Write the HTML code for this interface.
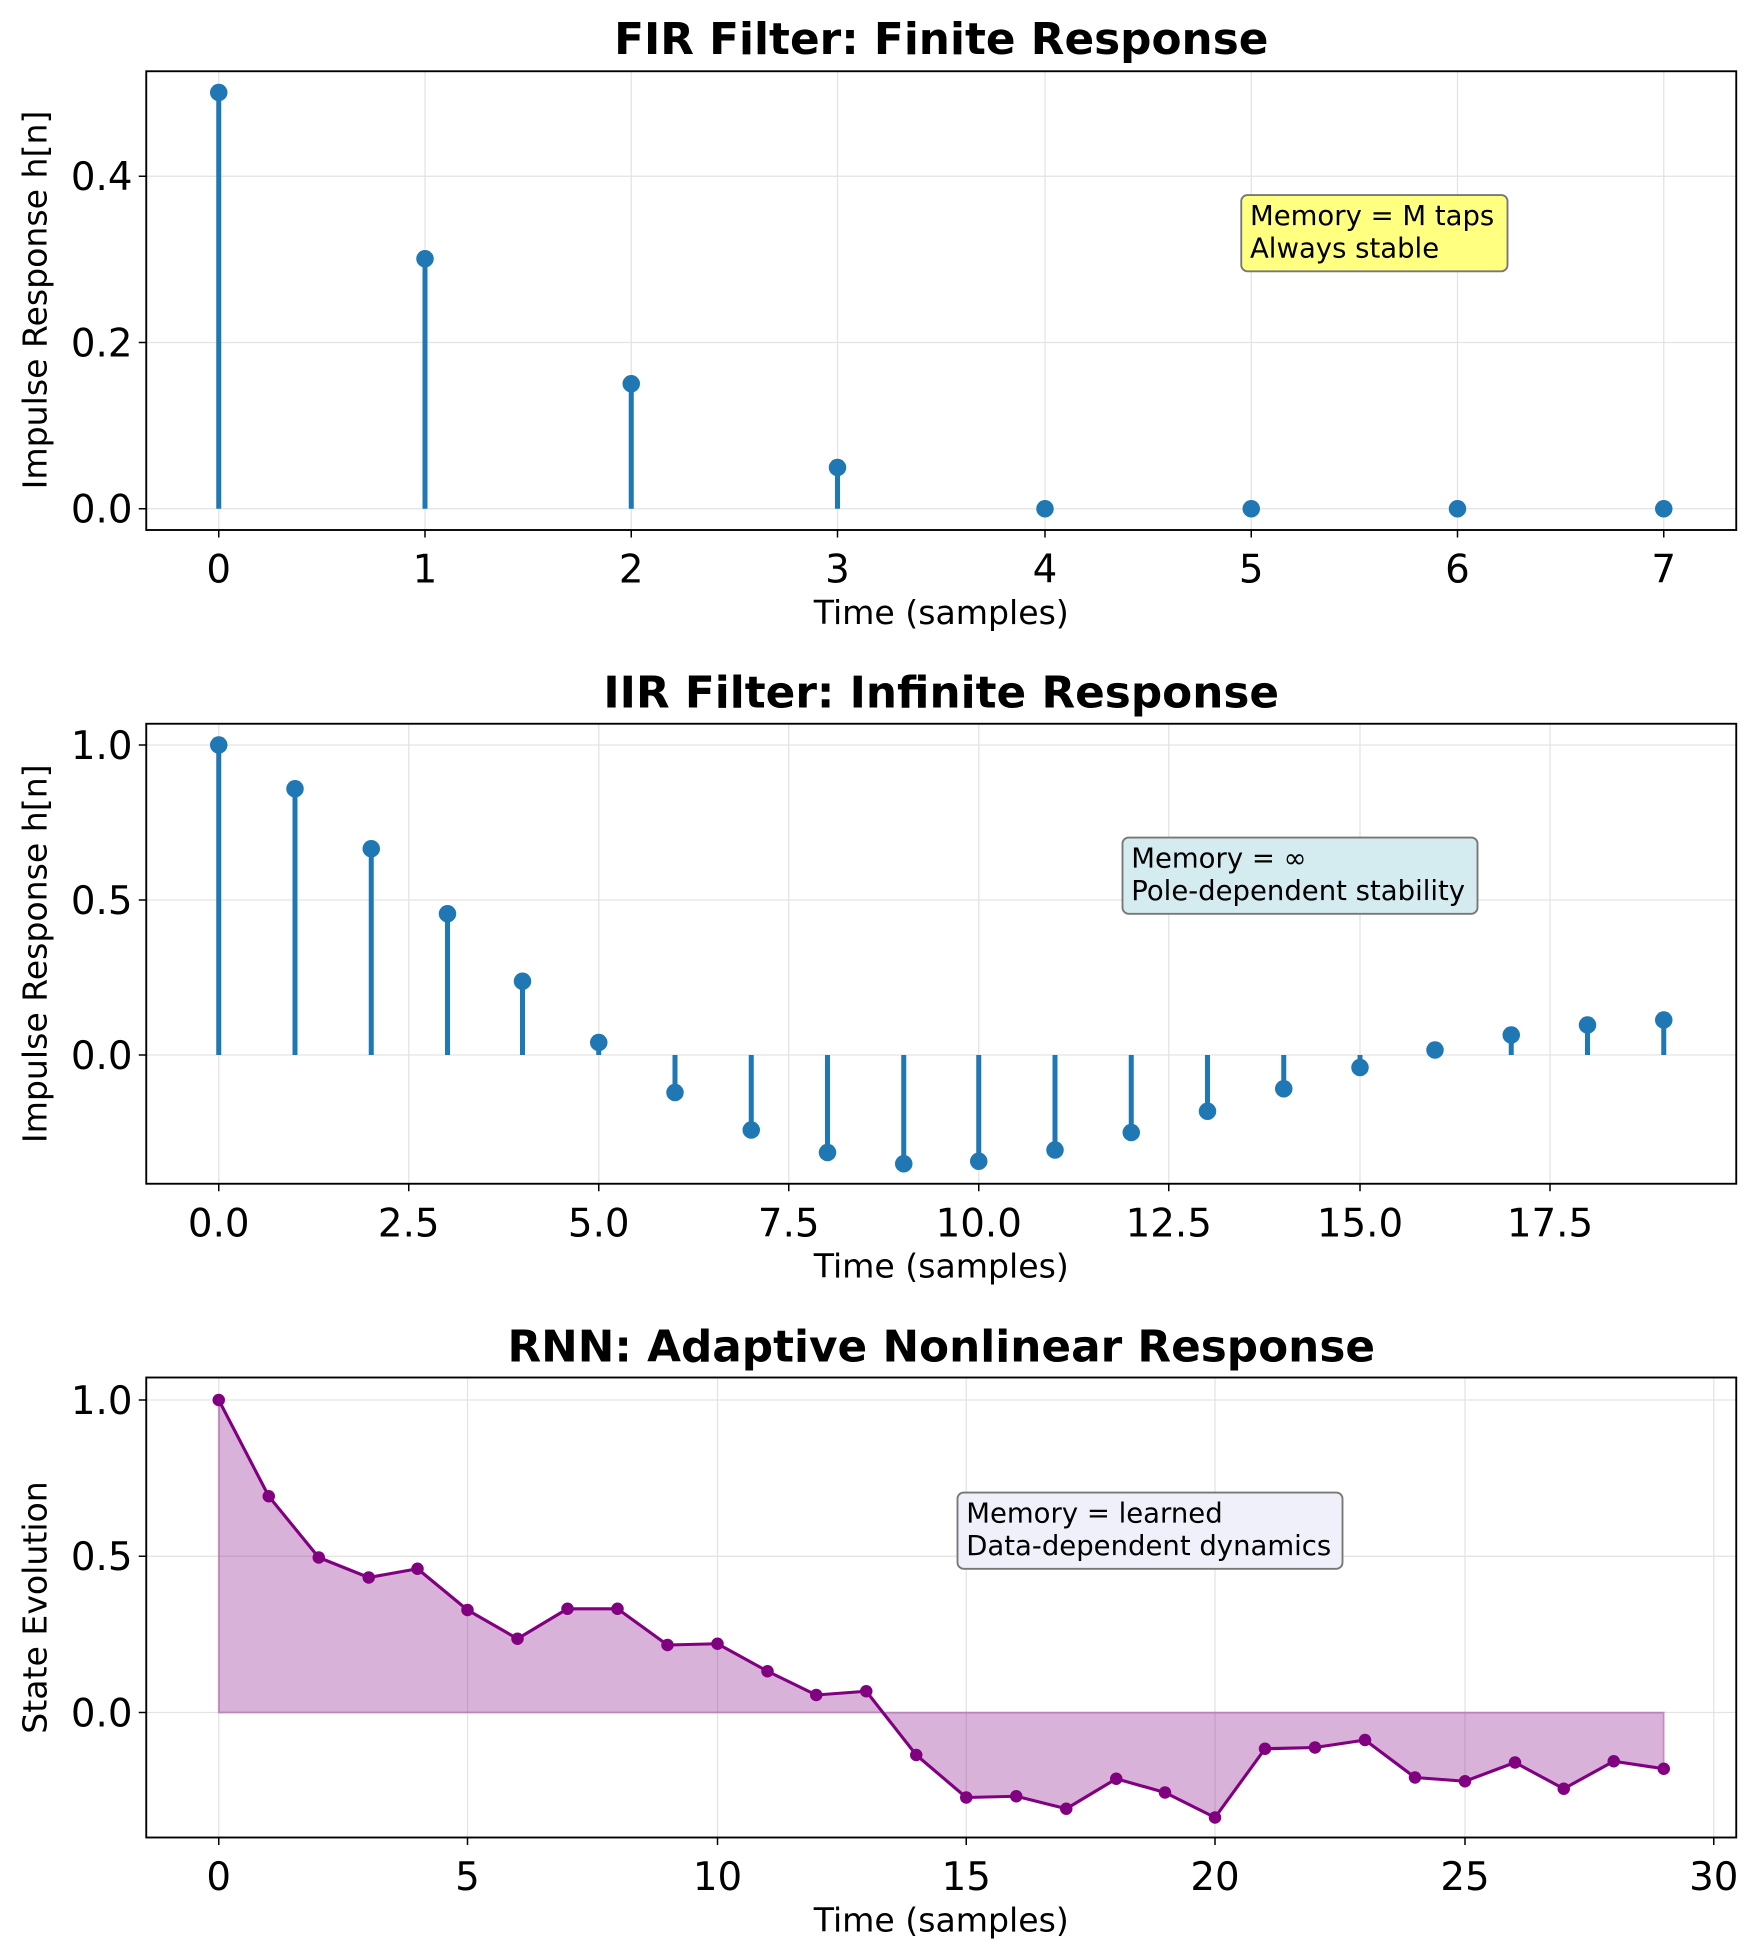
<!DOCTYPE html>
<html><head><meta charset="utf-8"><style>body{margin:0;background:#fff}svg{display:block}text{font-family:"DejaVu Sans","Liberation Sans",sans-serif}</style></head>
<body>
<svg width="1756" height="1957" viewBox="0 0 1404.8 1565.6" xmlns="http://www.w3.org/2000/svg">
<rect width="1405" height="1566" fill="#fff"/>
<!-- Panel 1 -->
<g stroke="#e3e3e3" stroke-width="1">
<line x1="175" y1="57" x2="175" y2="424"/><line x1="340" y1="57" x2="340" y2="424"/><line x1="505" y1="57" x2="505" y2="424"/><line x1="670" y1="57" x2="670" y2="424"/><line x1="836" y1="57" x2="836" y2="424"/><line x1="1001" y1="57" x2="1001" y2="424"/><line x1="1166" y1="57" x2="1166" y2="424"/><line x1="1331" y1="57" x2="1331" y2="424"/>
<line x1="117" y1="407" x2="1389" y2="407"/><line x1="117" y1="274" x2="1389" y2="274"/><line x1="117" y1="141" x2="1389" y2="141"/>
</g>
<g stroke="#1f77b4" stroke-width="4">
<line x1="175" y1="407" x2="175" y2="74"/><line x1="340" y1="407" x2="340" y2="207"/><line x1="505" y1="407" x2="505" y2="307"/><line x1="670" y1="407" x2="670" y2="374"/>
</g>
<g fill="#1f77b4"><circle cx="175" cy="74" r="7"/><circle cx="340" cy="207" r="7"/><circle cx="505" cy="307" r="7"/><circle cx="670" cy="374" r="7"/><circle cx="836" cy="407" r="7"/><circle cx="1001" cy="407" r="7"/><circle cx="1166" cy="407" r="7"/><circle cx="1331" cy="407" r="7"/></g>
<rect x="117" y="57" width="1272" height="367" fill="none" stroke="#000" stroke-width="1.5"/>
<g stroke="#000" stroke-width="1.2">
<line x1="175" y1="424" x2="175" y2="430"/><line x1="340" y1="424" x2="340" y2="430"/><line x1="505" y1="424" x2="505" y2="430"/><line x1="670" y1="424" x2="670" y2="430"/><line x1="836" y1="424" x2="836" y2="430"/><line x1="1001" y1="424" x2="1001" y2="430"/><line x1="1166" y1="424" x2="1166" y2="430"/><line x1="1331" y1="424" x2="1331" y2="430"/>
<line x1="111" y1="407" x2="117" y2="407"/><line x1="111" y1="274" x2="117" y2="274"/><line x1="111" y1="141" x2="117" y2="141"/>
</g>
<g font-size="31" text-anchor="middle"><text x="175" y="466">0</text><text x="340" y="466">1</text><text x="505" y="466">2</text><text x="670" y="466">3</text><text x="836" y="466">4</text><text x="1001" y="466">5</text><text x="1166" y="466">6</text><text x="1331" y="466">7</text></g>
<g font-size="31" text-anchor="end"><text x="106" y="418">0.0</text><text x="106" y="285">0.2</text><text x="106" y="152">0.4</text></g>
<text x="753" y="499" font-size="26.5" text-anchor="middle">Time (samples)</text>
<text transform="translate(37,240) rotate(-90)" font-size="26.5" text-anchor="middle">Impulse Response h[n]</text>
<text x="753" y="43" font-size="35" font-weight="bold" text-anchor="middle">FIR Filter: Finite Response</text>
<rect x="993" y="156" width="213" height="61" rx="5" fill="#ffff80" stroke="#777" stroke-width="1.5"/>
<text x="1000" y="180" font-size="22">Memory = M taps</text><text x="1000" y="206" font-size="22">Always stable</text>

<!-- Panel 2 -->
<g stroke="#e3e3e3" stroke-width="1">
<line x1="175" y1="579" x2="175" y2="947"/><line x1="327" y1="579" x2="327" y2="947"/><line x1="479" y1="579" x2="479" y2="947"/><line x1="631" y1="579" x2="631" y2="947"/><line x1="783" y1="579" x2="783" y2="947"/><line x1="935" y1="579" x2="935" y2="947"/><line x1="1088" y1="579" x2="1088" y2="947"/><line x1="1240" y1="579" x2="1240" y2="947"/>
<line x1="117" y1="844" x2="1389" y2="844"/><line x1="117" y1="720" x2="1389" y2="720"/><line x1="117" y1="596" x2="1389" y2="596"/>
</g>
<g stroke="#1f77b4" stroke-width="4">
<line x1="175" y1="844" x2="175" y2="596"/><line x1="236" y1="844" x2="236" y2="631"/><line x1="297" y1="844" x2="297" y2="679"/><line x1="358" y1="844" x2="358" y2="731"/><line x1="418" y1="844" x2="418" y2="785"/><line x1="479" y1="844" x2="479" y2="834"/><line x1="540" y1="844" x2="540" y2="874"/><line x1="601" y1="844" x2="601" y2="904"/><line x1="662" y1="844" x2="662" y2="922"/><line x1="723" y1="844" x2="723" y2="931"/><line x1="783" y1="844" x2="783" y2="929"/><line x1="844" y1="844" x2="844" y2="920"/><line x1="905" y1="844" x2="905" y2="906"/><line x1="966" y1="844" x2="966" y2="889"/><line x1="1027" y1="844" x2="1027" y2="871"/><line x1="1088" y1="844" x2="1088" y2="854"/><line x1="1209" y1="844" x2="1209" y2="828"/><line x1="1270" y1="844" x2="1270" y2="820"/><line x1="1331" y1="844" x2="1331" y2="816"/>
</g>
<g fill="#1f77b4"><circle cx="175" cy="596" r="7"/><circle cx="236" cy="631" r="7"/><circle cx="297" cy="679" r="7"/><circle cx="358" cy="731" r="7"/><circle cx="418" cy="785" r="7"/><circle cx="479" cy="834" r="7"/><circle cx="540" cy="874" r="7"/><circle cx="601" cy="904" r="7"/><circle cx="662" cy="922" r="7"/><circle cx="723" cy="931" r="7"/><circle cx="783" cy="929" r="7"/><circle cx="844" cy="920" r="7"/><circle cx="905" cy="906" r="7"/><circle cx="966" cy="889" r="7"/><circle cx="1027" cy="871" r="7"/><circle cx="1088" cy="854" r="7"/><circle cx="1148" cy="840" r="7"/><circle cx="1209" cy="828" r="7"/><circle cx="1270" cy="820" r="7"/><circle cx="1331" cy="816" r="7"/></g>
<rect x="117" y="579" width="1272" height="368" fill="none" stroke="#000" stroke-width="1.5"/>
<g stroke="#000" stroke-width="1.2">
<line x1="175" y1="947" x2="175" y2="953"/><line x1="327" y1="947" x2="327" y2="953"/><line x1="479" y1="947" x2="479" y2="953"/><line x1="631" y1="947" x2="631" y2="953"/><line x1="783" y1="947" x2="783" y2="953"/><line x1="935" y1="947" x2="935" y2="953"/><line x1="1088" y1="947" x2="1088" y2="953"/><line x1="1240" y1="947" x2="1240" y2="953"/>
<line x1="111" y1="844" x2="117" y2="844"/><line x1="111" y1="720" x2="117" y2="720"/><line x1="111" y1="596" x2="117" y2="596"/>
</g>
<g font-size="31" text-anchor="middle"><text x="175" y="989">0.0</text><text x="327" y="989">2.5</text><text x="479" y="989">5.0</text><text x="631" y="989">7.5</text><text x="783" y="989">10.0</text><text x="935" y="989">12.5</text><text x="1088" y="989">15.0</text><text x="1240" y="989">17.5</text></g>
<g font-size="31" text-anchor="end"><text x="106" y="855">0.0</text><text x="106" y="731">0.5</text><text x="106" y="607">1.0</text></g>
<text x="753" y="1022" font-size="26.5" text-anchor="middle">Time (samples)</text>
<text transform="translate(37,763) rotate(-90)" font-size="26.5" text-anchor="middle">Impulse Response h[n]</text>
<text x="753" y="566" font-size="35" font-weight="bold" text-anchor="middle">IIR Filter: Infinite Response</text>
<rect x="898" y="670" width="284" height="61" rx="5" fill="#d4ebf0" stroke="#777" stroke-width="1.5"/>
<text x="905" y="694" font-size="22">Memory = ∞</text><text x="905" y="720" font-size="22">Pole-dependent stability</text>

<!-- Panel 3 -->
<g stroke="#e3e3e3" stroke-width="1">
<line x1="175" y1="1102" x2="175" y2="1470"/><line x1="374" y1="1102" x2="374" y2="1470"/><line x1="574" y1="1102" x2="574" y2="1470"/><line x1="773" y1="1102" x2="773" y2="1470"/><line x1="972" y1="1102" x2="972" y2="1470"/><line x1="1172" y1="1102" x2="1172" y2="1470"/><line x1="1371" y1="1102" x2="1371" y2="1470"/>
<line x1="117" y1="1370" x2="1389" y2="1370"/><line x1="117" y1="1245" x2="1389" y2="1245"/><line x1="117" y1="1120" x2="1389" y2="1120"/>
</g>
<polygon fill="#800080" fill-opacity="0.3" stroke="#800080" stroke-opacity="0.3" stroke-width="1.5" points="175,1370 175,1120 215,1197 255,1246 295,1262 334,1255 374,1288 414,1311 454,1287 494,1287 534,1316 574,1315 614,1337 653,1356 693,1353 733,1404 773,1438 813,1437 853,1447 893,1423 932,1434 972,1454 1012,1399 1052,1398 1092,1392 1132,1422 1172,1425 1212,1410 1251,1431 1291,1409 1331,1415 1331,1370"/>
<polyline fill="none" stroke="#800080" stroke-width="2.5" stroke-linejoin="round" points="175,1120 215,1197 255,1246 295,1262 334,1255 374,1288 414,1311 454,1287 494,1287 534,1316 574,1315 614,1337 653,1356 693,1353 733,1404 773,1438 813,1437 853,1447 893,1423 932,1434 972,1454 1012,1399 1052,1398 1092,1392 1132,1422 1172,1425 1212,1410 1251,1431 1291,1409 1331,1415"/>
<g fill="#800080"><circle cx="175" cy="1120" r="5"/><circle cx="215" cy="1197" r="5"/><circle cx="255" cy="1246" r="5"/><circle cx="295" cy="1262" r="5"/><circle cx="334" cy="1255" r="5"/><circle cx="374" cy="1288" r="5"/><circle cx="414" cy="1311" r="5"/><circle cx="454" cy="1287" r="5"/><circle cx="494" cy="1287" r="5"/><circle cx="534" cy="1316" r="5"/><circle cx="574" cy="1315" r="5"/><circle cx="614" cy="1337" r="5"/><circle cx="653" cy="1356" r="5"/><circle cx="693" cy="1353" r="5"/><circle cx="733" cy="1404" r="5"/><circle cx="773" cy="1438" r="5"/><circle cx="813" cy="1437" r="5"/><circle cx="853" cy="1447" r="5"/><circle cx="893" cy="1423" r="5"/><circle cx="932" cy="1434" r="5"/><circle cx="972" cy="1454" r="5"/><circle cx="1012" cy="1399" r="5"/><circle cx="1052" cy="1398" r="5"/><circle cx="1092" cy="1392" r="5"/><circle cx="1132" cy="1422" r="5"/><circle cx="1172" cy="1425" r="5"/><circle cx="1212" cy="1410" r="5"/><circle cx="1251" cy="1431" r="5"/><circle cx="1291" cy="1409" r="5"/><circle cx="1331" cy="1415" r="5"/></g>
<rect x="117" y="1102" width="1272" height="368" fill="none" stroke="#000" stroke-width="1.5"/>
<g stroke="#000" stroke-width="1.2">
<line x1="175" y1="1470" x2="175" y2="1476"/><line x1="374" y1="1470" x2="374" y2="1476"/><line x1="574" y1="1470" x2="574" y2="1476"/><line x1="773" y1="1470" x2="773" y2="1476"/><line x1="972" y1="1470" x2="972" y2="1476"/><line x1="1172" y1="1470" x2="1172" y2="1476"/><line x1="1371" y1="1470" x2="1371" y2="1476"/>
<line x1="111" y1="1370" x2="117" y2="1370"/><line x1="111" y1="1245" x2="117" y2="1245"/><line x1="111" y1="1120" x2="117" y2="1120"/>
</g>
<g font-size="31" text-anchor="middle"><text x="175" y="1512">0</text><text x="374" y="1512">5</text><text x="574" y="1512">10</text><text x="773" y="1512">15</text><text x="972" y="1512">20</text><text x="1172" y="1512">25</text><text x="1371" y="1512">30</text></g>
<g font-size="31" text-anchor="end"><text x="106" y="1381">0.0</text><text x="106" y="1256">0.5</text><text x="106" y="1131">1.0</text></g>
<text x="753" y="1545" font-size="26.5" text-anchor="middle">Time (samples)</text>
<text transform="translate(37,1286) rotate(-90)" font-size="26.5" text-anchor="middle">State Evolution</text>
<text x="753" y="1089" font-size="35" font-weight="bold" text-anchor="middle">RNN: Adaptive Nonlinear Response</text>
<rect x="766" y="1194" width="308" height="61" rx="5" fill="#f0f0fa" stroke="#777" stroke-width="1.5"/>
<text x="773" y="1218" font-size="22">Memory = learned</text><text x="773" y="1244" font-size="22">Data-dependent dynamics</text>
</svg>
</body></html>
